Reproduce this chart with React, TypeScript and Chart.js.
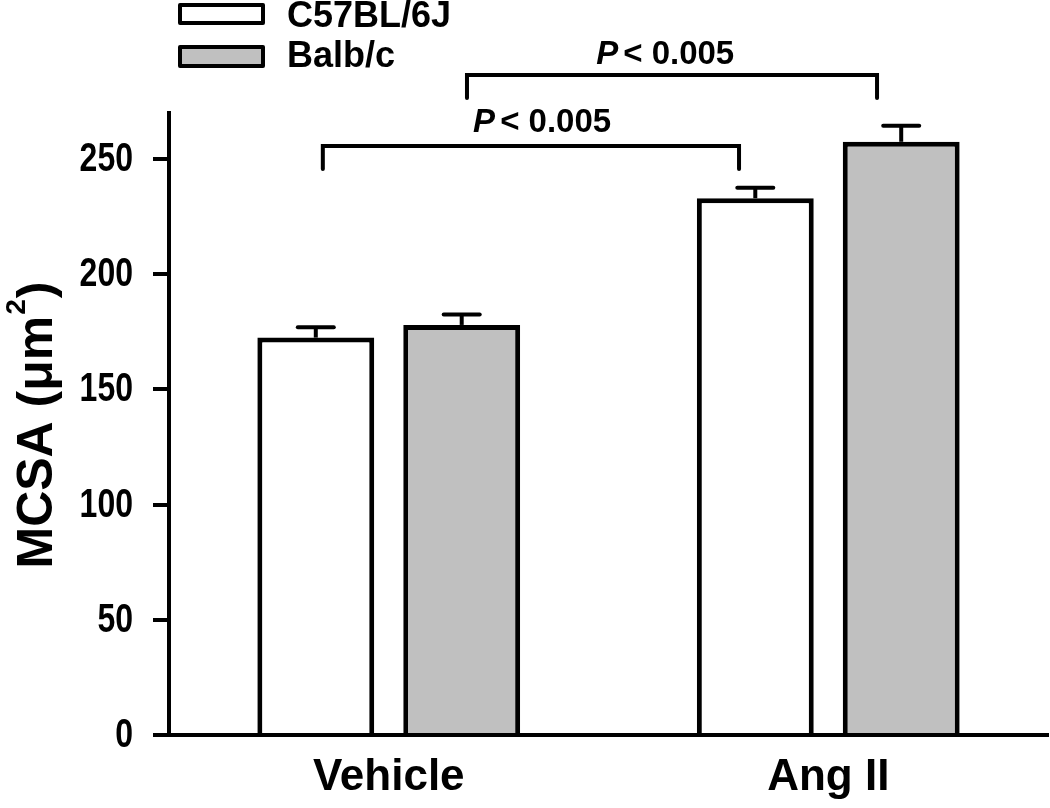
import { useEffect, useRef } from 'react';
import { Chart, registerables } from 'chart.js';

Chart.register(...registerables);

const categories = ['Vehicle', 'Ang II'];
const seriesNames = ['C57BL/6J', 'Balb/c'];
const c57Values = [172.5, 233];
const balbValues = [178, 257.5];
const c57Errors = [4.5, 4.5];
const balbErrors = [4.5, 7];
const seriesFill = ['#ffffff', '#c0c0c0'];
const yTicks = [0, 50, 100, 150, 200, 250];
const yTitleParts = ['MCSA (\u03bcm', '2', ')'];
const pItalic = 'P';
const pRest = '< 0.005';
// significance brackets (category-index units on x, data units on y)
const bracketFrom = [-0.15, 0.178];
const bracketTo = [0.797, 1.111];
const bracketLevel = [255.7, 286.5];
const bracketDrop = [10, 10];
const bracketLabelAt = [0.349, 0.629];
const bracketLabelValue = [261.7, 291.3];

const FONT = '"Liberation Sans", Arial, sans-serif';

const overlayPlugin = {
  id: 'overlay',
  afterDatasetsDraw(chart: any) {
    const ctx = chart.ctx;
    const xs = chart.scales.x;
    const ys = chart.scales.y;
    ctx.save();
    ctx.strokeStyle = '#000';
    ctx.fillStyle = '#000';
    ctx.lineWidth = 4;
    const allVals = [c57Values, balbValues];
    const allErrs = [c57Errors, balbErrors];
    allVals.forEach((vals, di) => {
      const meta = chart.getDatasetMeta(di);
      meta.data.forEach((el: any, i: number) => {
        const top = ys.getPixelForValue(vals[i]);
        const cap = ys.getPixelForValue(vals[i] + allErrs[di][i]);
        ctx.lineCap = 'butt';
        ctx.beginPath();
        ctx.moveTo(el.x, top);
        ctx.lineTo(el.x, cap);
        ctx.stroke();
        ctx.lineCap = 'round';
        ctx.beginPath();
        ctx.moveTo(el.x - 18, cap);
        ctx.lineTo(el.x + 18, cap);
        ctx.stroke();
      });
    });
    // brackets
    ctx.lineCap = 'round';
    ctx.lineJoin = 'miter';
    bracketFrom.forEach((f, i) => {
      const x1 = xs.getPixelForValue(f);
      const x2 = xs.getPixelForValue(bracketTo[i]);
      const yl = ys.getPixelForValue(bracketLevel[i]);
      const yd = ys.getPixelForValue(bracketLevel[i] - bracketDrop[i]);
      ctx.beginPath();
      ctx.moveTo(x1, yd);
      ctx.lineTo(x1, yl);
      ctx.lineTo(x2, yl);
      ctx.lineTo(x2, yd);
      ctx.stroke();
      const cx = xs.getPixelForValue(bracketLabelAt[i]);
      const by = ys.getPixelForValue(bracketLabelValue[i]);
      ctx.textBaseline = 'alphabetic';
      ctx.textAlign = 'left';
      const gap = 5;
      ctx.font = 'italic bold 33px ' + FONT;
      const w1 = ctx.measureText(pItalic).width;
      ctx.font = 'bold 33px ' + FONT;
      const w2 = ctx.measureText(pRest).width;
      const sx = cx - (w1 + gap + w2) / 2;
      ctx.font = 'italic bold 33px ' + FONT;
      ctx.fillText(pItalic, sx, by);
      ctx.font = 'bold 33px ' + FONT;
      ctx.fillText(pRest, sx + w1 + gap, by);
    });
    ctx.restore();
  },
  afterDraw(chart: any) {
    const ctx = chart.ctx;
    const ys = chart.scales.y;
    ctx.save();
    // y tick labels (condensed)
    ctx.fillStyle = '#000';
    ctx.font = 'bold 40px ' + FONT;
    ctx.textAlign = 'right';
    ctx.textBaseline = 'middle';
    ys.ticks.forEach((t: any) => {
      const py = ys.getPixelForValue(t.value);
      ctx.save();
      ctx.translate(ys.right - 36, py + 1);
      ctx.scale(0.8, 1);
      ctx.fillText(String(t.value), 0, 0);
      ctx.restore();
    });
    // legend
    const ds = chart.data.datasets;
    const boxes = [
      [180, 5, 83, 18, 17],
      [180, 47, 83, 19, 57],
    ];
    ds.forEach((d: any, i: number) => {
      const [bx, by, bw, bh, ty] = boxes[i];
      ctx.fillStyle = d.backgroundColor;
      ctx.fillRect(bx, by, bw, bh);
      ctx.strokeStyle = '#000';
      ctx.lineWidth = 4;
      ctx.lineJoin = 'round';
      ctx.strokeRect(bx, by, bw, bh);
      ctx.fillStyle = '#000';
      ctx.font = 'bold 36px ' + FONT;
      ctx.textAlign = 'left';
      ctx.textBaseline = 'middle';
      ctx.fillText(d.label, 287, ty);
    });
    // y title (rotated, with superscript)
    ctx.translate(52, 425);
    ctx.rotate(-Math.PI / 2);
    ctx.fillStyle = '#000';
    ctx.textBaseline = 'alphabetic';
    ctx.textAlign = 'left';
    const big = 'bold 50px ' + FONT;
    const small = 'bold 28px ' + FONT;
    ctx.font = big;
    const wa = ctx.measureText(yTitleParts[0]).width;
    const wc = ctx.measureText(yTitleParts[2]).width;
    ctx.font = small;
    const wb = ctx.measureText(yTitleParts[1]).width + 2;
    const x0 = -(wa + wb + wc) / 2;
    ctx.font = big;
    ctx.fillText(yTitleParts[0], x0, 0);
    ctx.font = small;
    ctx.fillText(yTitleParts[1], x0 + wa + 1, -27);
    ctx.font = big;
    ctx.fillText(yTitleParts[2], x0 + wa + wb, 0);
    ctx.restore();
  },
};

export default function App() {
  const ref = useRef<HTMLCanvasElement | null>(null);
  useEffect(() => {
    if (!ref.current) return;
    const chart = new Chart(ref.current, {
      type: 'bar',
      data: {
        labels: categories,
        datasets: [
          {
            label: seriesNames[0],
            data: c57Values,
            backgroundColor: seriesFill[0],
            borderColor: '#000',
            borderWidth: 5,
            categoryPercentage: 0.664,
            barPercentage: 0.801,
          },
          {
            label: seriesNames[1],
            data: balbValues,
            backgroundColor: seriesFill[1],
            borderColor: '#000',
            borderWidth: 5,
            categoryPercentage: 0.664,
            barPercentage: 0.801,
          },
        ],
      },
      options: {
        responsive: false,
        animation: false,
        layout: { padding: { top: 113, right: 2, left: 0, bottom: 0 } },
        plugins: {
          legend: { display: false },
          tooltip: { enabled: false },
          title: { display: false },
        },
        scales: {
          x: {
            afterFit: (s: any) => {
              s.height = 73;
            },
            border: { display: true, color: '#000', width: 4 },
            grid: { display: false },
            ticks: {
              padding: 8,
              color: '#000',
              maxRotation: 0,
              font: { family: FONT, weight: 'bold', size: 44 },
            },
          },
          y: {
            min: 0,
            max: 270,
            afterBuildTicks: (s: any) => {
              s.ticks = yTicks.map((v) => ({ value: v }));
            },
            afterFit: (s: any) => {
              s.width = 169;
            },
            border: { display: true, color: '#000', width: 4 },
            grid: {
              drawOnChartArea: false,
              drawTicks: true,
              tickLength: 16,
              tickWidth: 4,
              tickColor: '#000',
              lineWidth: 4,
              color: '#000',
            },
            ticks: { display: false },
          },
        },
      },
      plugins: [overlayPlugin],
    } as any);
    return () => chart.destroy();
  }, []);
  return (
    <div style={{ position: 'absolute', left: 0, top: 0, width: 1050, height: 808, background: '#fff' }}>
      <canvas ref={ref} width={1050} height={808} style={{ display: 'block' }} />
    </div>
  );
}
